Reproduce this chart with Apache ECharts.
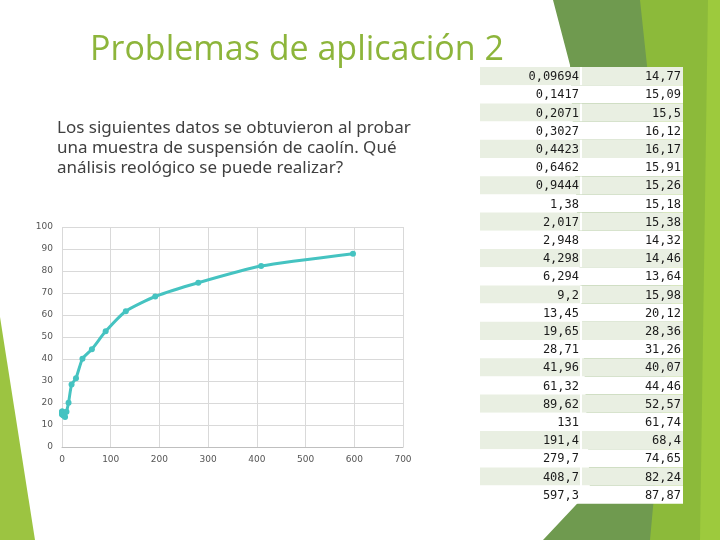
<!DOCTYPE html>
<html><head><meta charset="utf-8">
<script src="https://cdn.jsdelivr.net/npm/echarts@6/dist/echarts.min.js"></script>
<style>html,body{margin:0;padding:0;background:#fff}#c{width:720px;height:540px}</style>
</head><body><div id="c"></div>
<script>
// Data: shear rate (x) and shear stress (y)
var shearRate = [0.09694, 0.1417, 0.2071, 0.3027, 0.4423, 0.6462, 0.9444, 1.38, 2.017, 2.948, 4.298, 6.294, 9.2, 13.45, 19.65, 28.71, 41.96, 61.32, 89.62, 131, 191.4, 279.7, 408.7, 597.3];
var shearStress = [14.77, 15.09, 15.5, 16.12, 16.17, 15.91, 15.26, 15.18, 15.38, 14.32, 14.46, 13.64, 15.98, 20.12, 28.36, 31.26, 40.07, 44.46, 52.57, 61.74, 68.4, 74.65, 82.24, 87.87];
var xTicks = [0, 100, 200, 300, 400, 500, 600, 700];
var yTicks = [0, 10, 20, 30, 40, 50, 60, 70, 80, 90, 100];
var titleText = 'Problemas de aplicación 2';
var bodyText = ['Los siguientes datos se obtuvieron al probar', 'una muestra de suspensión de caolín. Qué', 'análisis reológico se puede realizar?'];

function fmt(v){ return String(v).replace('.', ','); }

var chart = echarts.init(document.getElementById('c'), null, {renderer:'canvas'});
var g = [];
// decorative shapes
g.push({type:'polygon', silent:true, z:0, shape:{points:[[553,0],[720,0],[720,540],[543,540],[590,490],[570,65]]}, style:{fill:'#6f9a4f'}});
g.push({type:'polygon', silent:true, z:0, shape:{points:[[640,0],[720,0],[720,540],[650,540],[672,300]]}, style:{fill:'#8cba3a'}});
g.push({type:'polygon', silent:true, z:0, shape:{points:[[708,0],[720,0],[720,540],[700,540]]}, style:{fill:'#9dca3d'}});
g.push({type:'polygon', silent:true, z:0, shape:{points:[[0,317],[35,540],[0,540]]}, style:{fill:'#9cc441'}});
// title
g.push({type:'text', z:5, style:{text:titleText, x:297, y:50, align:'center', verticalAlign:'middle', font:'34px "Open Sans"', fill:'#8db53b'}});
// body text
bodyText.forEach(function(t,i){
  g.push({type:'text', z:5, style:{text:t, x:57, y:128+i*20, align:'left', verticalAlign:'middle', font:'17px "Noto Sans"', fill:'#404040'}});
});
// table
var top0 = 67, rh = 18.2;
shearRate.forEach(function(v,i){
  var y = top0 + i*rh;
  var fillc = (i%2===0) ? '#e9efe2' : '#ffffff';
  g.push({type:'rect', z:3, shape:{x:480,y:y,width:100,height:rh}, style:{fill:fillc}});
  g.push({type:'rect', z:3, shape:{x:582,y:y,width:101,height:rh}, style:{fill:fillc}});
  g.push({type:'rect', z:2, shape:{x:580,y:y,width:2,height:rh}, style:{fill:'#ffffff'}});
  g.push({type:'text', z:5, style:{text:fmt(v), x:579, y:y+rh/2+1, align:'right', verticalAlign:'middle', font:'12px "DejaVu Sans Mono"', fill:'#1a1a1a'}});
  g.push({type:'text', z:5, style:{text:fmt(shearStress[i]), x:681, y:y+rh/2+1, align:'right', verticalAlign:'middle', font:'12px "DejaVu Sans Mono"', fill:'#1a1a1a'}});
});

chart.setOption({
  animation:false,
  backgroundColor:'#ffffff',
  graphic:g,
  grid:{left:62, top:227, width:341, height:220, containLabel:false},
  xAxis:{type:'value', min:xTicks[0], max:xTicks[xTicks.length-1], interval:100,
    axisLine:{show:true, lineStyle:{color:'#bfbfbf'}}, axisTick:{show:false},
    axisLabel:{color:'#555', fontSize:9, fontFamily:'DejaVu Sans', margin:8},
    splitLine:{show:true, lineStyle:{color:'#d9d9d9'}}},
  yAxis:{type:'value', min:yTicks[0], max:yTicks[yTicks.length-1], interval:10,
    axisLine:{show:false}, axisTick:{show:false},
    axisLabel:{color:'#555', fontSize:9, fontFamily:'DejaVu Sans', margin:9},
    splitLine:{show:true, lineStyle:{color:'#d9d9d9'}}},
  series:[{type:'line', data:shearRate.map(function(x,i){return [x, shearStress[i]];}),
    smooth:0.2, symbol:'circle', symbolSize:6, showSymbol:true,
    lineStyle:{color:'#45c3c1', width:3}, itemStyle:{color:'#45c3c1'}}]
});
</script></body></html>
